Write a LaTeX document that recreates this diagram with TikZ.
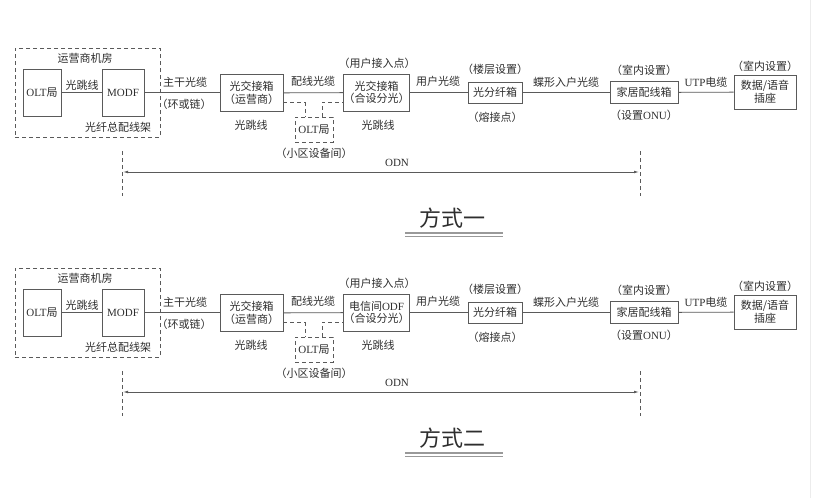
\documentclass[tikz,border=0pt]{standalone}
\usepackage{fontspec}
\setmainfont{Noto Sans CJK SC}
\newfontfamily\lat{Liberation Serif}
\usetikzlibrary{arrows.meta}
\definecolor{linec}{HTML}{5A5A5A}
\definecolor{txtc}{HTML}{2E2E2E}
\newcommand\drawway[4]{%
\begin{scope}[shift={(0,#2)}, name prefix=#1-]
  % operator room
  \node[dbox, minimum width=145pt, minimum height=89pt] (room) at (87.5,92.5) {};
  \node[lbl] (roomlbl) at (85,58) {运营商机房};
  \node[box, minimum width=38pt, minimum height=47pt] (olt) at (42,92.5) {\lat OLT\normalfont 局};
  \node[box, minimum width=42pt, minimum height=47pt] (modf) at (123,92.5) {\lat MODF};
  \node[lbl] (lolt) at (82,85) {光跳线};
  \node[lbl] (lmodf) at (118,127.5) {光纤总配线架};
  % cross-connect box 1
  \node[box, minimum width=63pt, minimum height=37pt] (jx1) at (251.5,93) {光交接箱\\（运营商）};
  \node[lbl] (ltrunk) at (185,82) {主干光缆};
  \node[lbl] (lring) at (184,104) {（环或链）};
  \node[lbl] (ljx1) at (251,125) {光跳线};
  % box 2
  \node[box, minimum width=63pt, minimum height=37pt] (jx2) at (376.5,92.5) {#3\\（合设分光）};
  \node[lbl] (ldist) at (313,81) {配线光缆};
  \node[lbl] (luap) at (377,63) {（用户接入点）};
  \node[lbl] (ljx2) at (378,125.5) {光跳线};
  % small OLT
  \node[dbox, minimum width=38pt, minimum height=25pt] (oltb) at (314,129.5) {\lat OLT\normalfont 局};
  \node[lbl] (loltb) at (314,153) {（小区设备间）};
  % splitter box
  \node[box, minimum width=54pt, minimum height=21pt] (fx) at (495,92.5) {光分纤箱};
  \node[lbl] (luser) at (438,81) {用户光缆};
  \node[lbl] (lfloor) at (495,69) {（楼层设置）};
  \node[lbl] (lsplice) at (495,117) {（熔接点）};
  % home box
  \node[box, minimum width=68pt, minimum height=22pt] (jj) at (644,92.5) {家居配线箱};
  \node[lbl] (ldrop) at (566,82) {蝶形入户光缆};
  \node[lbl] (lin1) at (644,70.5) {（室内设置）};
  \node[lbl] (lonu) at (644,115.5) {（设置\lat ONU\normalfont ）};
  % socket
  \node[box, minimum width=62pt, minimum height=34pt] (sk) at (765,92) {数据/语音\\插座};
  \node[lbl] (lutp) at (706,82) {\lat UTP\normalfont 电缆};
  \node[lbl] (lin2) at (765,66) {（室内设置）};
  % connectors
  \draw[ln] (olt) -- (modf);
  \draw[ln] (modf) -- (modf -| jx1.west);
  \draw[ln] (jx1) -- (jx2);
  \draw[ln] (jx2) -- (fx);
  \draw[ln] (fx) -- (jj);
  \draw[ln] (jj) -- (sk);
  \draw[dsh] ([yshift=-9.5pt]jx1.east) -| ([xshift=-9pt]oltb.north);
  \draw[dsh] ([xshift=8pt]oltb.north) |- ([yshift=-9.5pt]jx2.west);
  % ODN
  \coordinate (odnLt) at (122,151);
  \coordinate (odnLb) at (122,196);
  \coordinate (odnRt) at (640,151);
  \coordinate (odnRb) at (640,196);
  \coordinate (odnL) at (123,172);
  \coordinate (odnR) at (639,172);
  \draw[dsh] (odnLt) -- (odnLb);
  \draw[dsh] (odnRt) -- (odnRb);
  \draw[ln, line width=0.7pt, {Latex[length=5pt,width=2.6pt]}-{Latex[length=5pt,width=2.6pt]}] (odnL) -- (odnR);
  \node[lbl] (lodn) at (397,163) {\lat ODN};
  % title
  \node[lbl, font=\fontsize{22pt}{24pt}\selectfont] (title) at (452,218) {#4};
  \coordinate (ulA) at (405,233);
  \coordinate (ulB) at (503,233);
  \coordinate (ulC) at (405,236.8);
  \coordinate (ulD) at (503,236.8);
  \draw[draw=gray!80, line width=1.4pt] (ulA) -- (ulB);
  \draw[draw=gray!80, line width=0.7pt] (ulC) -- (ulD);
\end{scope}}
\begin{document}
\begin{tikzpicture}[x=1pt, y=-1pt,
  box/.style={draw=linec, line width=0.8pt, inner sep=0pt, align=center, text=txtc,
    font=\fontsize{11pt}{12.5pt}\selectfont},
  dbox/.style={box, dash pattern=on 4pt off 3pt},
  lbl/.style={inner sep=0pt, text=txtc, font=\fontsize{11pt}{12.5pt}\selectfont},
  ln/.style={draw=linec, line width=0.8pt},
  dsh/.style={draw=linec, line width=0.8pt, dash pattern=on 4pt off 3pt}]
\useasboundingbox[fill=white] (0,0) rectangle (826,498);
\coordinate (edgeT) at (810,0);
\coordinate (edgeB) at (810,498);
\draw[draw=gray!15, line width=0.6pt] (edgeT) -- (edgeB);
\drawway{a}{0}{光交接箱}{方式一}
\drawway{b}{220}{电信间\lat ODF}{方式二}
\end{tikzpicture}
\end{document}
